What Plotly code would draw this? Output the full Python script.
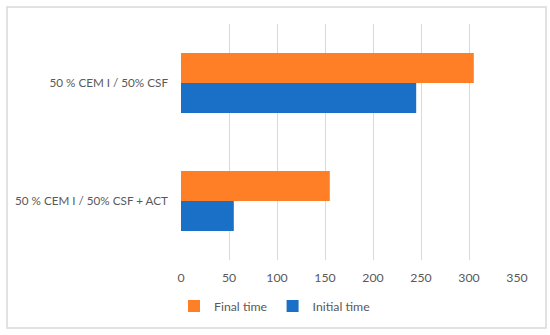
import plotly.graph_objects as go

categories = ["50 % CEM I / 50% CSF + ACT", "50 % CEM I / 50% CSF"]
initial_time = [55, 245]
final_time = [155, 305]
x_ticks = [0, 50, 100, 150, 200, 250, 300, 350]

font_family = "Lato, 'Open Sans', sans-serif"
gray = "#595959"
fs = 12.3
cat_fs = 11.7

fig = go.Figure()
fig.add_trace(go.Bar(y=categories, x=initial_time, orientation="h", name="Initial time",
                     marker=dict(color="#1A70C6", line=dict(width=0))))
fig.add_trace(go.Bar(y=categories, x=final_time, orientation="h", name="Final time",
                     marker=dict(color="#FE7F26", line=dict(width=0))))

L, R, T, B = 181, 550 - 517, 24, 335 - 260
pw = 550 - L - R
ph = 335 - T - B

fig.update_layout(
    width=550, height=335,
    margin=dict(l=L, r=R, t=T, b=B, autoexpand=False),
    paper_bgcolor="white", plot_bgcolor="white",
    barmode="group", bargap=0.49, bargroupgap=0,
    font=dict(family=font_family, size=fs, color=gray),
    showlegend=True,
    legend=dict(orientation="h", traceorder="reversed", xref="container", yref="container",
                x=275 / 550, xanchor="center", y=1 - 306 / 335, yanchor="middle",
                font=dict(size=fs, color=gray), itemwidth=30, bgcolor="rgba(0,0,0,0)"),
    xaxis=dict(range=[0, 350], tickvals=x_ticks, showgrid=True, gridcolor="#D9D9D9", gridwidth=1,
               zeroline=False, showline=False, ticks="", tickfont=dict(size=fs, color=gray),
               ticklabelstandoff=9, automargin=False, fixedrange=True),
    yaxis=dict(categoryorder="array", categoryarray=categories, showgrid=False, zeroline=False,
               showline=False, ticks="", ticklabelstandoff=12, automargin=False,
               tickfont=dict(size=cat_fs, color=gray), fixedrange=True),
    shapes=[dict(type="rect", xref="paper", yref="paper",
                 x0=(7 - L) / pw, x1=(546 - L) / pw,
                 y0=-(328 - 260) / ph, y1=(260 - 7) / ph,
                 line=dict(color="#D9D9D9", width=1.5), fillcolor="rgba(0,0,0,0)", layer="below")],
)

fig.write_html("out.html", config={"displayModeBar": False},
               post_script="document.body.style.margin='0';document.body.style.overflow='hidden';window.scrollTo(0,0);")
